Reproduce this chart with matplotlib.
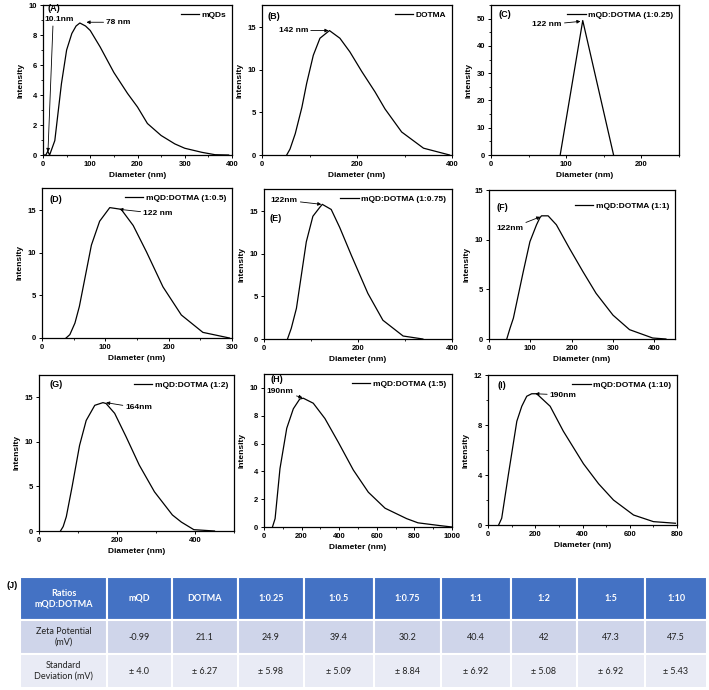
import matplotlib
matplotlib.use('Agg')
import matplotlib.pyplot as plt
from matplotlib.ticker import MultipleLocator

plt.rcParams['font.family'] = ['Liberation Sans', 'DejaVu Sans']
plt.rcParams['font.weight'] = 'bold'
plt.rcParams['axes.labelweight'] = 'bold'

# ---- DLS size distributions ----
a_x = [0, 6, 10.1, 14, 25, 39, 50, 61, 70, 78, 90, 100, 121, 150, 179, 200, 221, 250, 279, 300, 336, 364, 393]
a_y = [0, 0, 0.25, 0, 0.96, 4.75, 7.0, 8.1, 8.6, 8.8, 8.6, 8.3, 7.2, 5.5, 4.1, 3.2, 2.1, 1.3, 0.74, 0.45, 0.18, 0.02, 0]

b_x = [52, 59, 70, 84, 94, 108, 122, 142, 164, 185, 210, 238, 259, 294, 340, 395]
b_y = [0, 0.7, 2.5, 5.6, 8.4, 11.7, 13.7, 14.6, 13.7, 12.1, 9.8, 7.4, 5.4, 2.7, 0.8, 0]

c_x = [92, 122, 163]
c_y = [0, 49.3, 0]

d_x = [38, 44, 52, 59, 78, 91, 107, 125, 144, 165, 191, 220, 254, 296]
d_y = [0, 0.4, 1.75, 3.7, 10.9, 13.7, 15.3, 15.1, 13.2, 10.1, 6.0, 2.7, 0.66, 0]

e_x = [50, 58, 69, 90, 104, 118, 124, 143, 161, 186, 221, 253, 296, 338]
e_y = [0, 1.25, 3.6, 11.4, 14.4, 15.4, 15.8, 15.2, 13.1, 9.8, 5.35, 2.2, 0.35, 0]

f_x = [43, 51, 59, 83, 99, 115, 123, 127, 143, 163, 195, 227, 259, 300, 340, 396, 428]
f_y = [0, 1.1, 2.1, 6.8, 9.8, 11.5, 12.2, 12.4, 12.4, 11.5, 9.1, 6.8, 4.6, 2.4, 0.94, 0.1, 0]

g_x = [55, 62, 70, 85, 104, 121, 143, 164, 172, 194, 223, 257, 296, 342, 365, 397, 450]
g_y = [0, 0.5, 1.6, 5.0, 9.6, 12.4, 14.1, 14.4, 14.3, 13.2, 10.6, 7.4, 4.4, 1.8, 1.0, 0.15, 0]

h_x = [45, 59, 85, 121, 156, 190, 209, 262, 324, 395, 475, 555, 644, 759, 819, 936, 1000]
h_y = [0, 0.6, 4.2, 7.1, 8.5, 9.2, 9.26, 8.9, 7.8, 6.1, 4.1, 2.5, 1.35, 0.6, 0.3, 0.1, 0]

i_x = [45, 58, 86, 122, 143, 164, 185, 206, 263, 319, 404, 468, 531, 616, 700, 793]
i_y = [0, 0.54, 4.0, 8.3, 9.5, 10.3, 10.5, 10.5, 9.5, 7.5, 4.9, 3.3, 2.0, 0.8, 0.27, 0.14]

# ---- zeta potential table ----
ratios = ['Ratios\nmQD:DOTMA', 'mQD', 'DOTMA', '1:0.25', '1:0.5', '1:0.75', '1:1', '1:2', '1:5', '1:10']
zeta = ['Zeta Potential\n(mV)', '-0.99', '21.1', '24.9', '39.4', '30.2', '40.4', '42', '47.3', '47.5']
sdev = ['Standard\nDeviation (mV)', '± 4.0', '± 6.27', '± 5.98', '± 5.09', '± 8.84', '± 6.92', '± 5.08', '± 6.92', '± 5.43']

W, H = 709, 690
fig = plt.figure(figsize=(W / 100, H / 100), dpi=100)


def px_axes(l, t, r, b):
    return fig.add_axes([l / W, 1 - b / H, (r - l) / W, (b - t) / H])


def panel(box, x, y, xlim, ylim, xmaj, xmin, ymaj, ymin, legend):
    ax = px_axes(*box)
    ax.plot(x, y, color='black', lw=0.9, label=legend)
    ax.set_xlim(*xlim)
    ax.set_ylim(*ylim)
    ax.xaxis.set_major_locator(MultipleLocator(xmaj))
    ax.yaxis.set_major_locator(MultipleLocator(ymaj))
    if xmin:
        ax.xaxis.set_minor_locator(MultipleLocator(xmin))
    if ymin:
        ax.yaxis.set_minor_locator(MultipleLocator(ymin))
    ax.tick_params(which='major', direction='out', length=2.5, width=0.7, labelsize=5.5, pad=1.5)
    ax.tick_params(which='minor', direction='out', length=1.5, width=0.6)
    for s in ax.spines.values():
        s.set_linewidth(0.9)
    ax.set_xlabel('Diameter (nm)', fontsize=6, labelpad=3)
    ax.set_ylabel('Intensity', fontsize=6, labelpad=3)
    ax.legend(loc='upper right', frameon=False, fontsize=6, handlelength=2.2,
              handletextpad=0.3, borderaxespad=0.3)
    return ax


arrow = dict(arrowstyle='-|>', lw=0.6, color='black', mutation_scale=5, shrinkA=0, shrinkB=0)

# (A)
ax = panel((43, 5, 232, 155), a_x, a_y, (0, 400), (0, 10), 100, 50, 2, 1, 'mQDs')
ax.text(10, 9.78, '(A)', fontsize=6.5, va='center')
ax.text(3, 9.05, '10.1nm', fontsize=6, va='center')
ax.annotate('', xy=(10.5, 0.2), xytext=(21, 8.6), arrowprops=arrow)
ax.annotate('78 nm', xy=(92, 8.85), xytext=(134, 8.85), fontsize=6, va='center', arrowprops=arrow)

# (B)
ax = panel((262, 5, 452, 155), b_x, b_y, (0, 400), (0, 17.6), 200, 100, 5, None, 'DOTMA')
ax.text(12, 16.8, '(B)', fontsize=6.5, va='top')
ax.annotate('142 nm', xy=(140, 14.6), xytext=(35, 14.6), fontsize=6, va='center', arrowprops=arrow)

# (C)
ax = panel((491, 5, 679, 155), c_x, c_y, (0, 250), (0, 55), 100, 50, 10, 5, 'mQD:DOTMA (1:0.25)')
ax.text(10, 53, '(C)', fontsize=6.5, va='top')
ax.annotate('122 nm', xy=(119, 49), xytext=(55, 47.8), fontsize=6, va='center', arrowprops=arrow)

# (D)
ax = panel((42, 188, 232, 338), d_x, d_y, (0, 300), (0, 17.6), 100, 50, 5, None, 'mQD:DOTMA (1:0.5)')
ax.text(12, 16.8, '(D)', fontsize=6.5, va='top')
ax.annotate('122 nm', xy=(122, 15.1), xytext=(160, 14.6), fontsize=6, va='center', arrowprops=arrow)

# (E)
ax = panel((264, 189, 452, 339), e_x, e_y, (0, 400), (0, 17.6), 200, 100, 5, None, 'mQD:DOTMA (1:0.75)')
ax.text(12, 14.7, '(E)', fontsize=6.5, va='top')
ax.annotate('122nm', xy=(122, 15.8), xytext=(14, 16.3), fontsize=6, va='center', arrowprops=arrow)

# (F)
ax = panel((489, 190, 675, 339), f_x, f_y, (0, 450), (0, 15), 100, None, 5, None, 'mQD:DOTMA (1:1)')
ax.text(18, 13.7, '(F)', fontsize=6.5, va='top')
ax.annotate('122nm', xy=(124, 12.3), xytext=(18, 11.1), fontsize=6, va='center', arrowprops=arrow)
ax.get_legend().set_bbox_to_anchor((1.0, 0.96))

# (G)
ax = panel((39, 375, 234, 531), g_x, g_y, (0, 500), (0, 17.5), 200, 100, 5, None, 'mQD:DOTMA (1:2)')
ax.text(28, 16.9, '(G)', fontsize=6.5, va='top')
ax.annotate('164nm', xy=(172, 14.4), xytext=(222, 13.8), fontsize=6, va='center', arrowprops=arrow)

# (H)
ax = panel((264, 374, 452, 527), h_x, h_y, (0, 1000), (0, 11), 200, 100, 2, None, 'mQD:DOTMA (1:5)')
ax.text(35, 10.95, '(H)', fontsize=6.5, va='top')
ax.annotate('190nm', xy=(205, 9.3), xytext=(15, 9.75), fontsize=6, va='center', arrowprops=arrow)

# (I)
ax = panel((488, 375, 677, 525), i_x, i_y, (0, 800), (0, 12), 200, 100, 4, 2, 'mQD:DOTMA (1:10)')
ax.text(40, 11.5, '(I)', fontsize=6.5, va='top')
ax.annotate('190nm', xy=(200, 10.5), xytext=(262, 10.4), fontsize=6, va='center', arrowprops=arrow)

# (J) table
fig.text(6 / W, 1 - 586 / H, '(J)', fontsize=6.5, va='center')
tax = px_axes(20, 577, 707, 688)
tax.axis('off')
col_w = [87, 65, 66, 66, 70, 67, 70, 66, 68, 62]
tbl = tax.table(cellText=[ratios, zeta, sdev], colWidths=[w / sum(col_w) for w in col_w],
                cellLoc='center', bbox=[0, 0, 1, 1])
tbl.auto_set_font_size(False)
row_h = [43, 34, 34]
row_c = ['#4472C4', '#CFD5EA', '#E9EBF5']
for (r, c), cell in tbl.get_celld().items():
    cell.set_height(row_h[r])
    cell.set_facecolor(row_c[r])
    cell.set_edgecolor('white')
    cell.set_linewidth(1.5)
    t = cell.get_text()
    t.set_fontfamily(['Lato', 'DejaVu Sans'])
    t.set_fontsize(6.5)
    if r == 0:
        t.set_color('white')
        t.set_fontweight('bold')
    else:
        t.set_color('#222222')
        t.set_fontweight('normal')

fig.savefig('out.png', dpi=100)
